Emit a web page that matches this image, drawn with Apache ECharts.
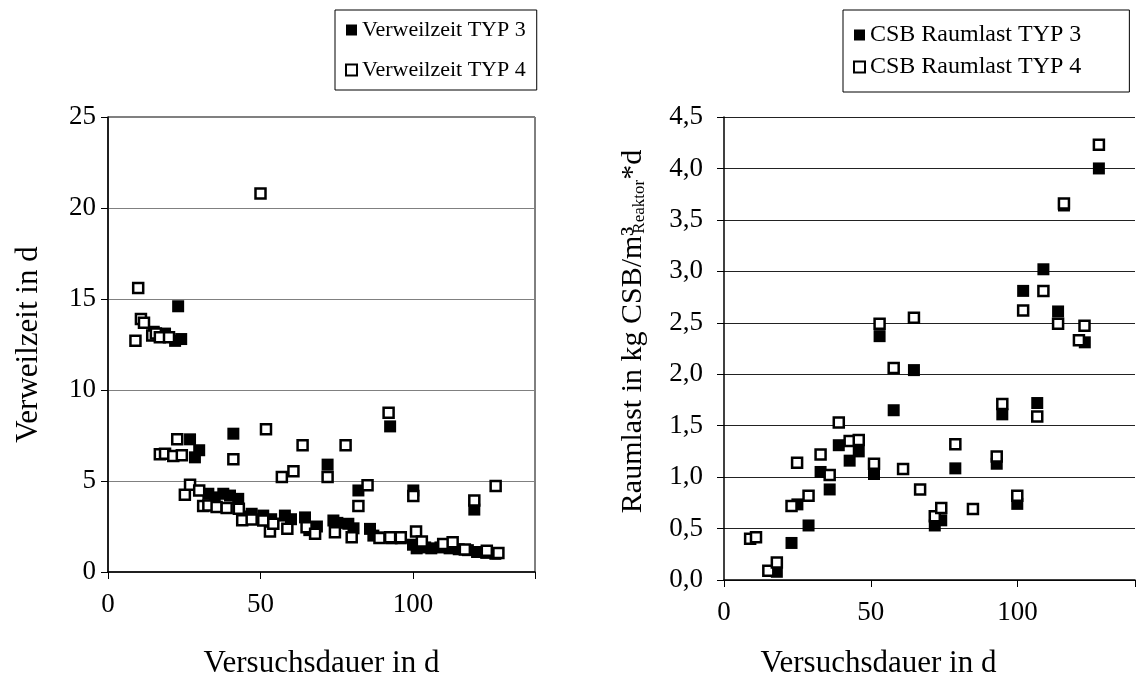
<!DOCTYPE html>
<html>
<head>
<meta charset="utf-8">
<script src="https://cdn.jsdelivr.net/npm/echarts@6/dist/echarts.min.js"></script>
<style>html,body{margin:0;padding:0;background:#fff}#c{width:1138px;height:684px}</style>
</head>
<body>
<div id="c"></div>
<script>
// Left chart: Verweilzeit (days) vs Versuchsdauer (days)
const verweilTyp3 = [
  [15,13.2],[18.7,13.1],[22,12.7],[24,12.8],[23,14.6],
  [26.9,7.29],[29.9,6.69],[28.5,6.3],[41.1,7.6],
  [32.9,4.3],[35,4.1],[37.8,4.3],[40,4.2],[42.7,4.02],[44.4,3.05],[47.1,3.2],[50.9,3.1],[53.5,2.9],
  [58,3.1],[60,2.9],[64.6,3.0],[66,2.3],[68.5,2.5],[72,5.9],[73.9,2.83],[75.2,2.7],[78.8,2.65],
  [80.5,2.4],[82.1,4.48],[85.9,2.37],[87,2.0],[89.5,1.9],[92.5,8.0],[93,1.85],[96,1.85],
  [100.1,4.48],[100,1.5],[101.2,1.3],[104,1.35],[106,1.3],[109,1.35],[112,1.3],[115,1.25],
  [118,1.2],[120.1,3.43],[121,1.1],[124,1.05],[127,1.0]
];
const verweilTyp4 = [
  [9,12.7],[9.9,15.6],[10.8,13.9],[11.8,13.7],[14.5,13.0],[15.7,13.1],[17,12.9],[20,12.9],
  [17,6.47],[18.7,6.5],[21.4,6.38],[22.7,7.29],[24.2,6.41],[41.1,6.19],[51.8,7.85],[57,5.22],
  [60.8,5.53],[63.8,6.96],[72,5.22],[77.9,6.96],[82.1,3.62],[85.1,4.76],[92,8.75],[100.1,4.17],
  [120.1,3.93],[127.1,4.72],[50,20.8],
  [25.2,4.24],[26.9,4.8],[29.9,4.48],[31.2,3.62],[32.9,3.66],[35.6,3.57],[38.9,3.51],[42.9,3.47],
  [44,2.85],[47.1,2.88],[50.9,2.83],[53.1,2.22],[54.2,2.65],[58.8,2.37],[65.1,2.46],[67.9,2.1],
  [74.4,2.19],[79.9,1.91],[89,1.87],[92.5,1.91],[96,1.91],[101,2.22],[102.9,1.67],[109.9,1.54],
  [113,1.64],[117,1.23],[124.2,1.17],[128,1.05]
];
// Right chart: CSB Raumlast (kg CSB/m3 Reaktor*d) vs Versuchsdauer (days)
const raumTyp3 = [
  [18,0.08],[23,0.36],[25,0.735],[28.8,0.53],[32.9,1.05],[36,0.88],[39.1,1.31],[42.8,1.16],
  [45.9,1.25],[51.1,1.03],[53,2.37],[57.8,1.65],[64.7,2.04],[71.8,0.53],[74,0.58],[78.8,1.085],
  [92.9,1.13],[94.8,1.61],[99.9,0.74],[101.9,2.81],[106.7,1.72],[108.8,3.02],[113.8,2.61],
  [115.8,3.64],[122.9,2.31],[127.7,4.0]
];
const raumTyp4 = [
  [8.9,0.40],[10.9,0.415],[15.1,0.09],[18,0.17],[23,0.72],[24.9,1.14],[28.8,0.82],[32.9,1.22],
  [36,1.02],[39.1,1.53],[42.8,1.35],[45.9,1.36],[51.1,1.13],[53,2.49],[57.8,2.06],[61,1.08],
  [64.7,2.55],[66.8,0.88],[71.8,0.62],[74,0.70],[78.8,1.32],[84.8,0.69],[92.9,1.20],[94.8,1.71],
  [99.9,0.82],[101.9,2.62],[106.7,1.59],[108.8,2.81],[113.8,2.49],[115.8,3.66],[120.9,2.33],
  [122.8,2.47],[127.7,4.23]
];
const seriesNames = ['Verweilzeit TYP 3','Verweilzeit TYP 4','CSB Raumlast TYP 3','CSB Raumlast TYP 4'];
const xTitle = 'Versuchsdauer in d';
const yTitleLeft = 'Verweilzeit in d';

const FONT = '"Liberation Serif","Times New Roman",serif';
const chart = echarts.init(document.getElementById('c'), null, {renderer:'canvas'});

const filled = {symbol:'rect', symbolSize:12, itemStyle:{color:'#000', borderColor:'#000', borderWidth:0, opacity:1}};
const open = {symbol:'rect', symbolSize:10, itemStyle:{color:'#fff', borderColor:'#000', borderWidth:2.5, opacity:1}};

function xAx(gridIndex, max, gap, pad){
  return {
    type:'value', gridIndex, min:0, max, interval:50,
    name:xTitle, nameLocation:'middle', nameGap:gap,
    nameTextStyle:{fontFamily:FONT, fontSize:31, color:'#000', padding:pad},
    axisLine:{show:true, onZero:false, lineStyle:{color:'#000', width:1.5}},
    axisTick:{show:true, inside:false, length:7, lineStyle:{color:'#000'}},
    axisLabel:{fontFamily:FONT, fontSize:27, color:'#000', margin:19,
      formatter:v=> (v%50===0 ? String(v) : '')},
    splitLine:{show:false}
  };
}

const option = {
  backgroundColor:'#fff',
  animation:false,
  textStyle:{fontFamily:FONT},
  grid:[
    {left:108, top:117, width:427, height:455.5, show:true, borderColor:'#000', borderWidth:1, backgroundColor:'transparent'},
    {left:724, top:117, width:418, height:463}
  ],
  legend:[
    {
      data:[seriesNames[0], seriesNames[1]], orient:'vertical', left:335, top:10,
      itemWidth:11, itemHeight:11, itemGap:18, padding:[9,11,9,10],
      borderColor:'#000', borderWidth:1,
      textStyle:{fontFamily:FONT, fontSize:22, color:'#000'}
    },
    {
      data:[seriesNames[2], seriesNames[3]], orient:'vertical', left:843, top:10,
      itemWidth:11, itemHeight:11, itemGap:8, padding:[13,48,13,10],
      borderColor:'#000', borderWidth:1,
      textStyle:{fontFamily:FONT, fontSize:24, color:'#000'}
    }
  ],
  xAxis:[ xAx(0,140,76,[0,0,0,0]), xAx(1,140,68,[0,102,0,0]) ],
  yAxis:[
    {
      type:'value', gridIndex:0, min:0, max:25, interval:5,
      name:yTitleLeft, nameLocation:'middle', nameGap:64, nameRotate:90,
      nameTextStyle:{fontFamily:FONT, fontSize:31, color:'#000'},
      axisLine:{show:true, lineStyle:{color:'#000', width:1.5}},
      axisTick:{show:true, length:7, lineStyle:{color:'#000'}},
      axisLabel:{fontFamily:FONT, fontSize:27, color:'#000', margin:12},
      splitLine:{show:true, lineStyle:{color:'#808080', width:1.2}}
    },
    {
      type:'value', gridIndex:1, min:0, max:4.5, interval:0.5,
      name:'Raumlast in kg CSB/m³{sub|Reaktor}*d', nameLocation:'middle', nameGap:76, nameRotate:90,
      nameTextStyle:{fontFamily:FONT, fontSize:30, color:'#000', padding:[0,0,0,34],
        rich:{sub:{fontFamily:FONT, fontSize:17, color:'#000', verticalAlign:'bottom', padding:[12,0,0,-7]}}},
      axisLine:{show:true, lineStyle:{color:'#000', width:1.5}},
      axisTick:{show:true, length:7, lineStyle:{color:'#000'}},
      axisLabel:{fontFamily:FONT, fontSize:27, color:'#000', margin:21,
        formatter:v=>v.toFixed(1).replace('.',',')},
      splitLine:{show:true, lineStyle:{color:'#222', width:1.2}}
    }
  ],
  series:[
    Object.assign({type:'scatter', name:seriesNames[0], xAxisIndex:0, yAxisIndex:0, data:verweilTyp3, z:2}, filled),
    Object.assign({type:'scatter', name:seriesNames[1], xAxisIndex:0, yAxisIndex:0, data:verweilTyp4, z:3}, open),
    Object.assign({type:'scatter', name:seriesNames[2], xAxisIndex:1, yAxisIndex:1, data:raumTyp3, z:2}, filled),
    Object.assign({type:'scatter', name:seriesNames[3], xAxisIndex:1, yAxisIndex:1, data:raumTyp4, z:3}, open)
  ]
};
chart.setOption(option);
</script>
</body>
</html>
